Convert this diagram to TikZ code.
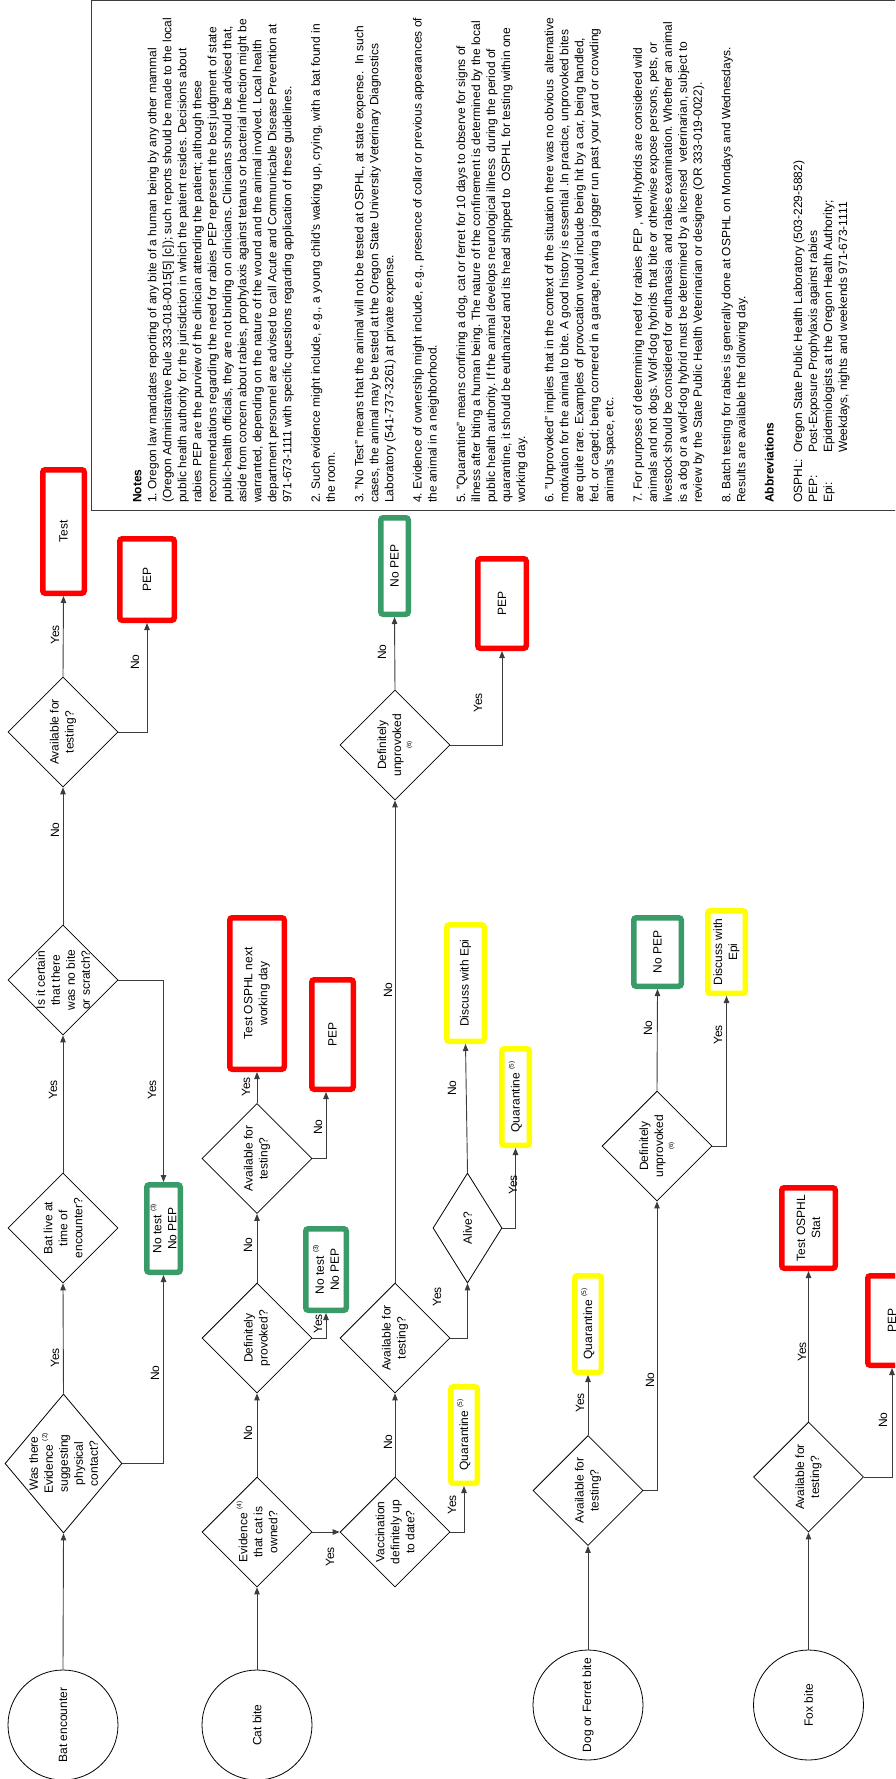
\documentclass[tikz,border=0pt]{standalone}
\usepackage{fontspec}
\setmainfont{Liberation Sans}
\usetikzlibrary{shapes.geometric,arrows.meta}
\definecolor{boxred}{RGB}{255,0,0}
\definecolor{boxgreen}{RGB}{56,155,104}
\definecolor{boxyellow}{RGB}{255,255,0}
\definecolor{linegray}{RGB}{60,60,60}
\newcommand{\sref}[1]{\raisebox{0.5em}{\fontsize{6.5}{6.5}\selectfont(#1)}}
\begin{document}
\frenchspacing
\begin{tikzpicture}[x=1pt,y=-1pt,
  every node/.style={rotate=90, inner sep=0pt, font=\fontsize{12}{15}\selectfont},
  conn/.style={draw=linegray, line width=0.9pt, -{Triangle[length=7pt,width=5.5pt]}},
  dia/.style={draw=black, line width=0.8pt, shape=diamond, inner sep=0pt, minimum width=110pt, minimum height=110pt},
  circ/.style={draw=black, line width=0.8pt, circle, minimum size=110pt},
  txt/.style={align=center},
  boxbase/.style={line width=5.5pt, rounded corners=2.5pt, fill=white, align=center, outer sep=2.75pt},
  rbox/.style={boxbase, draw=boxred},
  gbox/.style={boxbase, draw=boxgreen},
  ybox/.style={boxbase, draw=boxyellow},
  lab/.style={font=\fontsize{12}{14}\selectfont}
]
\useasboundingbox (0,0) rectangle (895,1779);
\clip (0,0) rectangle (895,1779);
\fill[white] (0,0) rectangle (895,1779);

% notes box
\draw[linegray, line width=1pt] (91,1) rectangle (896,510);
\node[anchor=north west, align=left, font=\fontsize{12}{15}\selectfont] (notes) at (133,503) {%
\textbf{Notes}\\
1. Oregon law mandates reporting of any bite of a human being by any other mammal\\
(Oregon Administrative Rule 333-018-0015[5] [c]); such reports should be made to the local\\
public health authority for the jurisdiction in which the patient resides. Decisions about\\
rabies PEP are the purview of the clinician attending the patient; although these\\
recommendations regarding the need for rabies PEP represent the best judgment of state\\
public-health officials, they are not binding on clinicians. Clinicians should be advised that,\\
aside from concern about rabies, prophylaxis against tetanus or bacterial infection might be\\
warranted, depending on the nature of the wound and the animal involved. Local health\\
department personnel are advised to call Acute and Communicable Disease Prevention at\\
971-673-1111 with specific questions regarding application of these guidelines.\\[13.4pt]
2. Such evidence might include, e.g., a young child's waking up, crying, with a bat found in\\
the room.\\[13.4pt]
3. "No Test" means that the animal will not be tested at OSPHL, at state expense.\ \ In such\\
cases, the animal may be tested at the Oregon State University Veterinary Diagnostics\\
Laboratory (541-737-3261) at private expense.\\[13.4pt]
4. Evidence of ownership might include, e.g., presence of collar or previous appearances of\\
the animal in a neighborhood.\\[13.4pt]
5. "Quarantine" means confining a dog, cat or ferret for 10 days to observe for signs of\\
illness after biting a human being. The nature of the confinement is determined by the local\\
public health authority. If the animal develops neurological illness\ \ during the period of\\
quarantine, it should be euthanized and its head shipped to\ \ OSPHL for testing within one\\
working day.\\[13.4pt]
6. "Unprovoked" implies that in the context of the situation there was no obvious\ \ alternative\\
motivation for the animal to bite. A good history is essential .In practice, unprovoked bites\\
are quite rare. Examples of provocation would include being hit by a car, being handled,\\
fed. or caged; being cornered in a garage, having a jogger run past your yard or crowding\\
animal's space, etc.\\[13.4pt]
7. For purposes of determining need for rabies PEP , wolf-hybrids are considered wild\\
animals and not dogs. Wolf-dog hybrids that bite or otherwise expose persons, pets, or\\
livestock should be considered for euthanasia\ \ and rabies examination. Whether an animal\\
is a dog or a wolf-dog hybrid must be determined by a licensed\ \ veterinarian, subject to\\
review by the State Public Health Veterinarian or designee (OR 333-019-0022).\\[13.4pt]
8. Batch testing for rabies is generally done at OSPHL on Mondays and Wednesdays.\\
Results are available the following day.\\[13.4pt]
\textbf{Abbreviations}\\[13.4pt]
\makebox[50pt][l]{OSPHL:}Oregon State Public Health Laboratory (503-229-5882)\\
\makebox[50pt][l]{PEP:}Post-Exposure Prophylaxis against rabies\\
\makebox[50pt][l]{Epi:}Epidemiologists at the Oregon Health Authority;\\
\hspace*{50pt}Weekdays, nights and weekends 971-673-1111};

% ---------- Bat row ----------
\node[circ] (bat) at (63,1725) {Bat encounter};
\node[dia, minimum width=139pt, minimum height=117pt] (d1) at (63.5,1463.5) {};
\node[txt] (d1t) at (d1) {Was there\\Evidence \sref{2}\\suggesting\\physical\\contact?};
\node[dia] (d2) at (63,1228) {};
\node[txt] (d2t) at (d2) {Bat live at\\time of\\encounter?};
\node[dia] (d3) at (63,980) {};
\node[txt] (d3t) at (d3) {Is it certain\\that there\\was no bite\\or scratch?};
\node[dia] (d4) at (63,732) {};
\node[txt] (d4t) at (d4) {Available for\\testing?};
\node[rbox, minimum width=123.5pt, minimum height=41.5pt] (test1) at (63.5,531.5) {Test};
\node[rbox, minimum width=81.5pt, minimum height=54.5pt] (pep1) at (147,579.5) {PEP};
\node[gbox, minimum width=87.5pt, minimum height=33.5pt] (nt1) at (163.5,1228.5) {No test \sref{3}\\No PEP};

\draw[conn] (bat.east) -- (d1.west);
\draw[conn] (d1.east) -- (d2.west);
\draw[conn] (d1.south) -| (nt1.west);
\draw[conn] (d2.east) -- (d3.west);
\draw[conn] (d3.south) -| (nt1.east);
\draw[conn] (d3.east) -- (d4.west);
\draw[conn] (d4.east) -- (test1.west);
\draw[conn] (d4.south) -| (pep1.west);

\node[lab] (l1) at (55,1358) {Yes};
\node[lab] (l2) at (155,1373) {No};
\node[lab] (l3) at (53,1090) {Yes};
\node[lab] (l4) at (152,1090) {Yes};
\node[lab] (l5) at (55,830) {No};
\node[lab] (l6) at (55,635) {Yes};
\node[lab] (l7) at (135,662) {No};

% ---------- Cat row ----------
\node[circ] (cat) at (257,1725) {Cat bite};
\node[dia] (c1) at (257,1532) {};
\node[txt] (c1t) at (c1) {Evidence \sref{4}\\that cat is\\owned?};
\node[dia] (c2) at (257,1338) {};
\node[txt] (c2t) at (c2) {Definitely\\provoked?};
\node[dia] (c3) at (257,1158.5) {};
\node[txt] (c3t) at (c3) {Available for\\testing?};
\node[dia] (c4) at (395,1532) {};
\node[txt] (c4t) at (c4) {Vaccination\\definitely up\\to date?};
\node[dia] (c5) at (395,1338) {};
\node[txt] (c5t) at (c5) {Available for\\testing?};
\node[dia, minimum height=69pt] (alive) at (467.5,1228) {};
\node[txt] (alivet) at (alive) {Alive?};
\node[dia] (c7) at (395,745) {};
\node[txt] (c7t) at (c7) {Definitely\\unprovoked\\[-5pt]{\fontsize{6}{7}\selectfont(6)}};

\node[rbox, minimum width=151.5pt, minimum height=54.5pt] (testnext) at (257,993.5) {Test OSPHL next\\working day};
\node[rbox, minimum width=109.5pt, minimum height=41.5pt] (pep2) at (332.5,1034.5) {PEP};
\node[gbox, minimum width=81.5pt, minimum height=40.5pt] (nt2) at (326,1269.5) {No test \sref{3}\\No PEP};
\node[ybox, minimum width=96.5pt, minimum height=26.5pt] (q1) at (464,1435) {Quarantine \sref{5}};
\node[ybox, minimum width=116.5pt, minimum height=37.5pt] (disc1) at (465.5,983) {Discuss with Epi};
\node[ybox, minimum width=96.5pt, minimum height=27.5pt] (q2) at (515.5,1097) {Quarantine \sref{5}};
\node[gbox, minimum width=96.5pt, minimum height=27.5pt] (nopep1) at (394.5,566) {No PEP};
\node[rbox, minimum width=89.5pt, minimum height=48.5pt] (pep3) at (502,603.5) {PEP};

\draw[conn] (cat.east) -- (c1.west);
\draw[conn] (c1.east) -- (c2.west);
\draw[conn] (c2.east) -- (c3.west);
\draw[conn] (c3.east) -- (testnext.west);
\draw[conn] (c3.south) -| ([xshift=-6.5pt]pep2.west);
\draw[conn] (c2.south) -| (nt2.west);
\draw[conn] (c1.south) -- (c4.north);
\draw[conn] (c4.east) -- (c5.west);
\draw[conn] (c4.south) -| (q1.west);
\draw[conn] (c5.east) -- (c7.west);
\draw[conn] (c5.south) -| (alive.west);
\draw[conn] (alive.east) -- (disc1.west);
\draw[conn] (alive.south) -| (q2.west);
\draw[conn] (c7.east) -- (nopep1.west);
\draw[conn] (c7.south) -| (pep3.west);

\node[lab] (m1) at (248,1433) {No};
\node[lab] (m2) at (248,1245) {No};
\node[lab] (m3) at (246,1087) {Yes};
\node[lab] (m4) at (318,1127) {No};
\node[lab] (m5) at (318,1324) {Yes};
\node[lab] (m6) at (330,1557) {Yes};
\node[lab] (m7) at (388,1442) {No};
\node[lab] (m8) at (452,1505) {Yes};
\node[lab] (m9) at (388,990) {No};
\node[lab] (m10) at (437,1297) {Yes};
\node[lab] (m11) at (452,1088) {No};
\node[lab] (m12) at (513,1185) {Yes};
\node[lab] (m13) at (382,652) {No};
\node[lab] (m14) at (478,703) {Yes};

% ---------- Dog row ----------
\node[circ] (dog) at (588,1705) {Dog or Ferret bite};
\node[dia] (g1) at (588,1490.5) {};
\node[txt] (g1t) at (g1) {Available for\\testing?};
\node[dia] (g2) at (657,1146) {};
\node[txt] (g2t) at (g2) {Definitely\\unprovoked\\[-5pt]{\fontsize{6}{7}\selectfont(6)}};
\node[ybox, minimum width=96.5pt, minimum height=26.5pt] (q3) at (588,1324) {Quarantine \sref{5}};
\node[gbox, minimum width=68.5pt, minimum height=47.5pt] (nopep2) at (657.5,952) {No PEP};
\node[ybox, minimum width=82.5pt, minimum height=37.5pt] (disc2) at (726.5,952) {Discuss with\\Epi};

\draw[conn] (dog.east) -- (g1.west);
\draw[conn] (g1.east) -- (q3.west);
\draw[conn] (g1.south) -| (g2.west);
\draw[conn] (g2.east) -- (nopep2.west);
\draw[conn] (g2.south) -| (disc2.west);

\node[lab] (n1) at (580,1403) {Yes};
\node[lab] (n2) at (650,1380) {No};
\node[lab] (n3) at (648,1028) {No};
\node[lab] (n4) at (718,1035) {Yes};

% ---------- Fox row ----------
\node[circ] (fox) at (808.5,1705) {Fox bite};
\node[dia] (f1) at (808.5,1477) {};
\node[txt] (f1t) at (f1) {Available for\\testing?};
\node[rbox, minimum width=80.5pt, minimum height=53.5pt] (teststat) at (808.5,1228) {Test OSPHL\\Stat};
\node[rbox, minimum width=89.5pt, minimum height=48.5pt] (pep4) at (892,1320.5) {PEP};

\draw[conn] (fox.east) -- (f1.west);
\draw[conn] (f1.east) -- (teststat.west);
\draw[conn] (f1.south) -| (pep4.west);

\node[lab] (o1) at (802,1352) {Yes};
\node[lab] (o2) at (883,1420) {No};
\end{tikzpicture}
\end{document}
